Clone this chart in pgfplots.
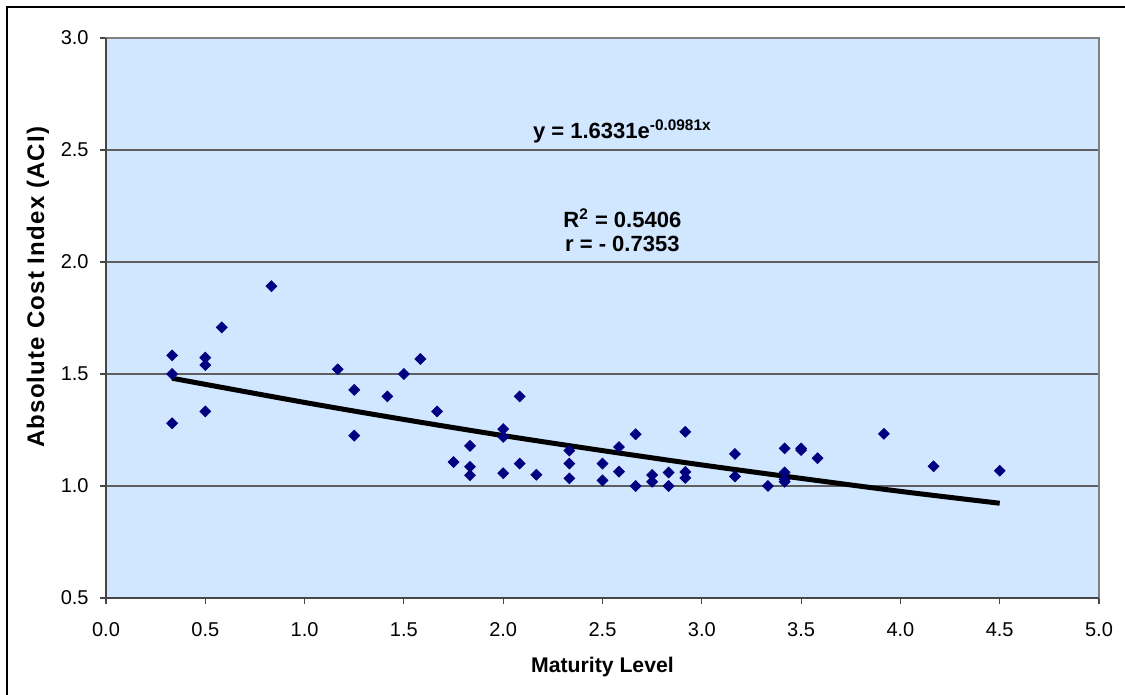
\documentclass[border=0pt]{standalone}
\usepackage{pgfplots}
\pgfplotsset{compat=1.18}
\usepackage{fontspec}
\setmainfont{Liberation Sans}
\definecolor{bgblue}{RGB}{208,231,255}
\definecolor{navymk}{RGB}{0,0,128}
\definecolor{gridgray}{RGB}{95,95,95}
\definecolor{axisgray}{RGB}{70,70,70}
\definecolor{bordergray}{RGB}{128,128,128}
\begin{document}
\begin{tikzpicture}
\path[use as bounding box] (-53pt,-48.5pt) rectangle (509.5pt,299pt);
\draw[black, line width=1pt] (-49.5pt,-48.5pt) -- (-49.5pt,295.5pt) -- (509.5pt,295.5pt);
\begin{axis}[
  at={(0,0)}, anchor=south west,
  scale only axis,
  width=496.5pt, height=280pt,
  xmin=0, xmax=5, ymin=0.5, ymax=3,
  xtick={0,0.5,...,5},
  ytick={0.5,1,1.5,2,2.5,3},
  tick pos=left,
  tick align=outside,
  major tick length=3pt,
  tick style={color=axisgray, line width=0.6pt},
  xticklabel style={font=\fontsize{10}{12}\selectfont, inner sep=0pt, anchor=north, yshift=-9pt},
  yticklabel style={font=\fontsize{10}{12}\selectfont, inner sep=0pt, anchor=east, xshift=-5.5pt},
  /pgf/number format/assume math mode=true,
  xticklabel={\pgfmathprintnumber[fixed,fixed zerofill,precision=1]{\tick}},
  yticklabel={\pgfmathprintnumber[fixed,fixed zerofill,precision=1]{\tick}},
  axis background/.style={fill=bgblue},
  axis line style={draw=bordergray, line width=0.8pt},
  ymajorgrids,
  grid style={draw=gridgray, line width=0.6pt},
  xlabel={Maturity Level},
  ylabel={Absolute Cost Index (ACI)},
  xlabel style={font=\bfseries\fontsize{10.6}{12}\selectfont, at={(rel axis cs:0.5,0)}, anchor=center, yshift=-34.5pt},
  ylabel style={font=\bfseries\fontsize{12}{14}\selectfont\addfontfeature{LetterSpace=5}, at={(rel axis cs:0,0.555)}, anchor=center, yshift=34pt},
  clip=false,
]
\draw[axisgray, line width=1pt] (rel axis cs:0,1) -- (rel axis cs:0,0) -- (rel axis cs:1,0);
\addplot[only marks, mark=square*, mark size=1.9pt, mark options={rotate=45, fill=navymk, draw=navymk}] coordinates {
(0.333,1.583) (0.333,1.50) (0.333,1.28)
(0.5,1.573) (0.5,1.54) (0.5,1.333)
(0.583,1.708) (0.833,1.892)
(1.167,1.521) (1.25,1.429) (1.25,1.225)
(1.417,1.40) (1.5,1.50) (1.583,1.567) (1.667,1.333)
(1.75,1.107) (1.833,1.179) (1.833,1.086) (1.833,1.048)
(2.0,1.254) (2.0,1.219) (2.0,1.057)
(2.083,1.40) (2.083,1.10) (2.167,1.05)
(2.333,1.158) (2.333,1.10) (2.333,1.034)
(2.5,1.10) (2.5,1.025)
(2.583,1.174) (2.583,1.064)
(2.667,1.231) (2.667,1.0)
(2.75,1.049) (2.75,1.019)
(2.833,1.060) (2.833,1.0)
(2.917,1.242) (2.917,1.063) (2.917,1.036)
(3.167,1.143) (3.167,1.043)
(3.333,1.0)
(3.417,1.168) (3.417,1.061) (3.417,1.03) (3.417,1.019)
(3.5,1.168) (3.5,1.16)
(3.583,1.124) (3.917,1.233) (4.167,1.088) (4.5,1.068)
};
\addplot[black, line width=2.5pt, smooth, no marks] coordinates {
(0.333,1.481) (1.0,1.373) (1.5,1.297) (2.0,1.225) (2.5,1.158) (3.0,1.094) (3.5,1.034) (4.0,0.976) (4.5,0.923)
};
\node[font=\bfseries\fontsize{11}{13}\selectfont] at (axis cs:2.6,2.585) {y = 1.6331e\textsuperscript{-0.0981x}};
\node[font=\bfseries\fontsize{11}{13}\selectfont] at (axis cs:2.6,2.196) {R\textsuperscript{2} = 0.5406};
\node[font=\bfseries\fontsize{11}{13}\selectfont] at (axis cs:2.6,2.08) {r = - 0.7353};
\end{axis}
\end{tikzpicture}
\end{document}
